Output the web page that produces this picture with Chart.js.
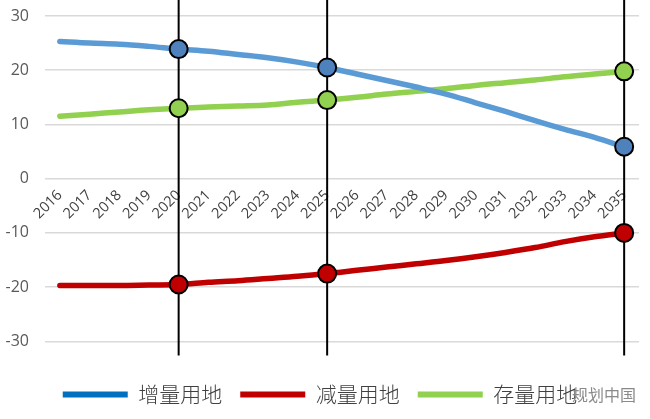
<!DOCTYPE html>
<html>
<head>
<meta charset="utf-8">
<script src="https://cdn.jsdelivr.net/npm/chart.js@4/dist/chart.umd.min.js"></script>
<style>
  html, body { margin: 0; padding: 0; background: #fff; }
  #wrap { position: relative; width: 650px; height: 419px; }
  #mark { position: absolute; left: 572px; top: 382px; font: 16px "Noto Sans CJK SC"; color: #8a8a8a; }
</style>
</head>
<body>
<div id="wrap">
  <canvas id="chart" width="650" height="419"></canvas>
  <div id="mark">规划中国</div>
</div>
<script>
var years = ['2016','2017','2018','2019','2020','2021','2022','2023','2024','2025',
             '2026','2027','2028','2029','2030','2031','2032','2033','2034','2035'];
// 增量用地
var zengliang = [25.3, 25.0, 24.8, 24.4, 23.9, 23.5, 22.9, 22.3, 21.5, 20.5,
                 19.3, 18.1, 16.9, 15.6, 14.0, 12.4, 10.7, 9.1, 7.6, 5.9];
// 减量用地
var jianliang = [-19.7, -19.7, -19.7, -19.6, -19.5, -19.1, -18.8, -18.4, -18.0, -17.5,
                 -16.9, -16.3, -15.7, -15.1, -14.4, -13.6, -12.7, -11.6, -10.7, -10.0];
// 存量用地
var cunliang = [11.5, 11.9, 12.3, 12.7, 13.0, 13.2, 13.4, 13.6, 14.1, 14.5,
                15.0, 15.6, 16.1, 16.6, 17.2, 17.7, 18.2, 18.8, 19.3, 19.8];
var markerYears = ['2020', '2025', '2035'];
var yTicks = [-30, -20, -10, 0, 10, 20, 30];

var legendColors = ['#0070C0', '#C00000', '#92D050'];

function markRadius(ctx) {
  return markerYears.indexOf(years[ctx.dataIndex]) >= 0 ? 9 : 0;
}

// 竖线：标记年份
var guideLines = {
  id: 'guideLines',
  beforeDatasetsDraw: function(chart) {
    var x = chart.scales.x, c = chart.ctx;
    c.save();
    c.strokeStyle = '#000';
    c.lineWidth = 2;
    markerYears.forEach(function(y) {
      var px = x.getPixelForValue(years.indexOf(y));
      c.beginPath();
      c.moveTo(px, 0);
      c.lineTo(px, chart.chartArea.bottom + 14);
      c.stroke();
    });
    c.restore();
  }
};

function series(label, data, line, dot) {
  return {
    label: label,
    data: data,
    borderColor: line,
    backgroundColor: line,
    borderWidth: 5.5,
    borderCapStyle: 'round',
    tension: 0.35,
    pointRadius: markRadius,
    pointHoverRadius: markRadius,
    pointBackgroundColor: dot,
    pointBorderColor: '#000',
    pointBorderWidth: 2
  };
}

new Chart(document.getElementById('chart'), {
  type: 'line',
  data: {
    labels: years,
    datasets: [
      series('增量用地', zengliang, '#5B9BD5', '#4F81BD'),
      series('减量用地', jianliang, '#C00000', '#C00000'),
      series('存量用地', cunliang, '#92D050', '#92D050')
    ]
  },
  plugins: [guideLines],
  options: {
    responsive: false,
    animation: false,
    devicePixelRatio: 1,
    layout: { padding: { top: 16, right: 10, left: 0, bottom: 4 } },
    plugins: {
      tooltip: { enabled: false },
      legend: {
        position: 'bottom',
        title: { display: true, text: ' ', padding: 0, font: { size: 20.5 } },
        labels: {
          boxWidth: 65,
          boxHeight: 6,
          padding: 18,
          color: '#404040',
          font: { family: '"Noto Sans CJK SC"', size: 21, weight: 300 },
          generateLabels: function(chart) {
            return chart.data.datasets.map(function(d, i) {
              return { text: d.label, fillStyle: legendColors[i], strokeStyle: legendColors[i],
                       lineWidth: 0, datasetIndex: i, fontColor: '#404040' };
            });
          }
        }
      }
    },
    scales: {
      x: {
        position: { y: 0 },
        offset: true,
        grid: { display: false, drawTicks: false },
        border: { display: false },
        ticks: {
          autoSkip: false,
          maxRotation: 45,
          minRotation: 45,
          padding: 8,
          color: '#404040',
          font: { family: '"Open Sans"', size: 14.5 }
        }
      },
      y: {
        min: -30,
        max: 30,
        afterBuildTicks: function(s) { s.ticks = yTicks.map(function(v) { return { value: v }; }); },
        afterFit: function(s) { s.width = 45; s.paddingTop = 0; s.paddingBottom = 0; },
        grid: { color: '#D9D9D9', lineWidth: 1.5, drawTicks: false },
        border: { display: false },
        ticks: {
          padding: 16,
          color: '#595959',
          font: { family: '"Open Sans"', size: 16 }
        }
      }
    }
  }
});
</script>
</body>
</html>
